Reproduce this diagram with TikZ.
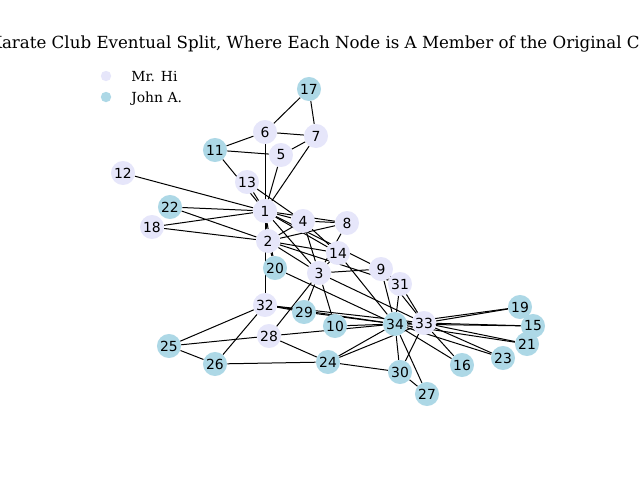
\documentclass[tikz,border=0pt]{standalone}
\usepackage{fontspec}
\setmainfont{DejaVu Serif}
\setsansfont{DejaVu Sans}
\usetikzlibrary{backgrounds}
\definecolor{hicolor}{HTML}{E6E6FA}
\definecolor{johncolor}{HTML}{ADD8E6}
\tikzset{
  member/.style={circle, minimum size=17.3pt, inner sep=0pt,
    font=\sffamily\fontsize{10}{12}\selectfont},
  hi/.style={member, fill=hicolor},
  john/.style={member, fill=johncolor},
  tie/.style={line width=0.72pt},
  keydot/.style={circle, minimum size=7.5pt, inner sep=0pt},
  keytext/.style={anchor=base west, inner sep=0pt, font=\fontsize{10}{12}\selectfont},
}

\begin{document}
\begin{tikzpicture}[x=0.72pt, y=-0.72pt]
  \useasboundingbox (0,0) rectangle (640,480);
  \clip (0,0) rectangle (640,480);
  % title
  \node (title) at (328,44) {\fontsize{12}{14}\selectfont Karate Club Eventual Split, Where Each Node is A Member of the Original Club};
  % legend
  \node[keydot, fill=hicolor] (keyhi) at (106,76) {};
  \node[keytext] (keyhitext) at (131,81) {Mr. Hi};
  \node[keydot, fill=johncolor] (keyjohn) at (106,97) {};
  \node[keytext] (keyjohntext) at (131,102) {John A.};
  % members
  \foreach \n/\x/\y/\s in {
      1/265/211/hi, 2/268/241/hi, 3/319/273/hi, 4/303/221/hi, 5/281/155/hi,
      6/265/132/hi, 7/316/136/hi, 8/347/223/hi, 9/381/269/hi, 10/335/326/john,
      11/215/150/john, 12/123/173/hi, 13/247/182/hi, 14/338/253/hi, 15/533/326/john,
      16/462/365/john, 17/309/89/john, 18/152/227/hi, 19/520/307/john, 20/275/268/john,
      21/527/344/john, 22/170/207/john, 23/503/358/john, 24/328/362/john, 25/169/346/john,
      26/215/364/john, 27/427/394/john, 28/269/336/hi, 29/304/312/john, 30/400/372/john,
      31/400/284/hi, 32/265/305/hi, 33/424/323/hi, 34/395/324/john}
    \node[\s] (m\n) at (\x,\y) {\n};
  % ties
  \begin{scope}[on background layer]
    \foreach \a/\b in {
        1/2, 1/3, 1/4, 1/5, 1/6, 1/7, 1/8, 1/9, 1/11, 1/12, 1/13, 1/14, 1/18, 1/20, 1/22, 1/32,
        2/3, 2/4, 2/8, 2/14, 2/18, 2/20, 2/22, 2/31,
        3/4, 3/8, 3/9, 3/10, 3/14, 3/28, 3/29, 3/33,
        4/8, 4/13, 4/14, 5/7, 5/11, 6/7, 6/11, 6/17, 7/17,
        9/31, 9/33, 9/34, 10/34, 14/34, 15/33, 15/34, 16/33, 16/34,
        19/33, 19/34, 20/34, 21/33, 21/34, 23/33, 23/34,
        24/26, 24/28, 24/30, 24/33, 24/34, 25/26, 25/28, 25/32, 26/32,
        27/30, 27/34, 28/34, 29/32, 29/34, 30/33, 30/34,
        31/33, 31/34, 32/33, 32/34, 33/34}
      \draw[tie] (m\a) -- (m\b);
  \end{scope}
\end{tikzpicture}
\end{document}
